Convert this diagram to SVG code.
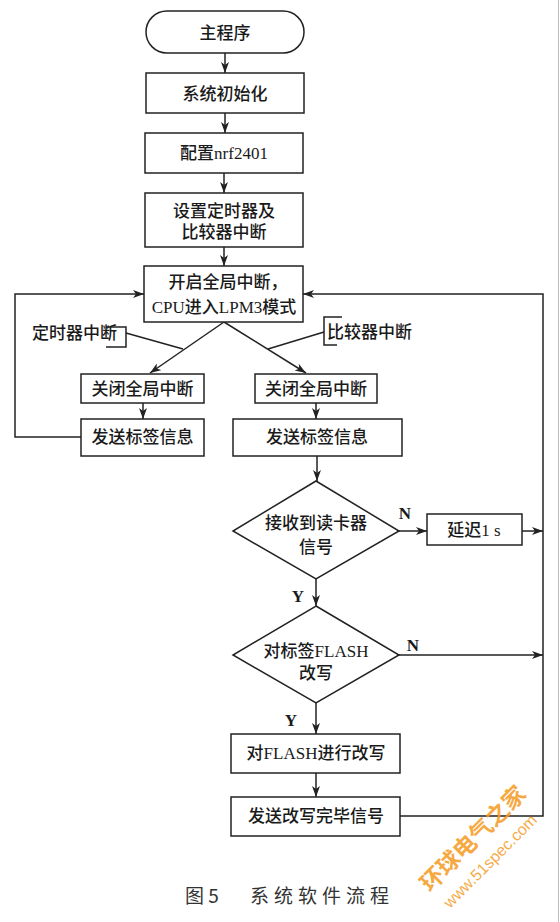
<svg xmlns="http://www.w3.org/2000/svg" width="560" height="922" viewBox="0 0 560 922">
<style>
.n{fill:#fff;stroke:#222;stroke-width:1.5}
.t{font-family:"Liberation Serif","Noto Sans CJK SC",serif;font-size:17px;font-weight:500;fill:#1a1a1a;text-anchor:middle;dominant-baseline:central}
.l{font-family:"Liberation Serif","Noto Sans CJK SC",serif;font-size:17px;font-weight:500;fill:#1a1a1a;dominant-baseline:central}
.yn{font-family:"Liberation Serif",serif;font-size:17px;font-weight:bold;fill:#1a1a1a;text-anchor:middle;dominant-baseline:central}
.c{fill:none;stroke:#222;stroke-width:1.5}
.cap{font-family:"Noto Sans CJK SC",serif;font-size:19px;fill:#333;dominant-baseline:central}
.wm{font-family:"Noto Sans CJK SC",sans-serif;font-weight:bold;fill:#f59a1e;fill-opacity:0.85}
</style>
<defs>
<marker id="a" markerUnits="userSpaceOnUse" markerWidth="12" markerHeight="10" refX="11" refY="4" orient="auto">
<path d="M0,0 L11,4 L0,8 L3,4 z" fill="#222"/>
</marker>
</defs>
<line x1="558.5" y1="0" x2="558.5" y2="922" stroke="#bbb" stroke-width="1"/>
<g id="connectors">
<line class="c" x1="225" y1="53" x2="225" y2="73" marker-end="url(#a)"/>
<line class="c" x1="225" y1="113" x2="225" y2="133" marker-end="url(#a)"/>
<line class="c" x1="224" y1="173" x2="224" y2="193" marker-end="url(#a)"/>
<line class="c" x1="224" y1="247" x2="224" y2="266" marker-end="url(#a)"/>
<line class="c" x1="224" y1="322" x2="150" y2="373" marker-end="url(#a)"/>
<line class="c" x1="224" y1="322" x2="306" y2="373" marker-end="url(#a)"/>
<path class="c" d="M106,327 H126 V347 H106"/>
<line class="c" x1="126" y1="333" x2="183" y2="349"/>
<path class="c" d="M342,317 H324 V345 H337"/>
<line class="c" x1="324" y1="332" x2="268" y2="349"/>
<line class="c" x1="143" y1="403" x2="143" y2="419" marker-end="url(#a)"/>
<line class="c" x1="316" y1="403" x2="316" y2="419" marker-end="url(#a)"/>
<path class="c" d="M81,437 H15 V294 H144" marker-end="url(#a)"/>
<line class="c" x1="317" y1="456" x2="317" y2="481" marker-end="url(#a)"/>
<line class="c" x1="399" y1="531" x2="427" y2="531" marker-end="url(#a)"/>
<line class="c" x1="522" y1="531" x2="543" y2="531" marker-end="url(#a)"/>
<line class="c" x1="316" y1="579" x2="316" y2="606" marker-end="url(#a)"/>
<line class="c" x1="399" y1="655" x2="543" y2="655" marker-end="url(#a)"/>
<line class="c" x1="316" y1="703" x2="316" y2="734" marker-end="url(#a)"/>
<line class="c" x1="316" y1="773" x2="316" y2="797" marker-end="url(#a)"/>
<path class="c" d="M400,816 H543 V294 H303" marker-end="url(#a)"/>
</g>
<g id="start"><rect class="n" x="146" y="11" width="158" height="42" rx="21"/><text class="t" x="225" y="33">主程序</text></g>
<g id="init"><rect class="n" x="146" y="73" width="158" height="40"/><text class="t" x="225" y="94">系统初始化</text></g>
<g id="nrf"><rect class="n" x="145" y="133" width="158" height="40"/><text class="t" x="224" y="153">配置nrf2401</text></g>
<g id="timer"><rect class="n" x="145" y="193" width="158" height="54"/><text class="t" x="224" y="211">设置定时器及</text><text class="t" x="224" y="232">比较器中断</text></g>
<g id="lpm"><rect class="n" x="144" y="266" width="159" height="56"/><text class="t" x="228" y="282">开启全局中断，</text><text class="t" x="224" y="307">CPU进入LPM3模式</text></g>
<g id="lbl-timer"><text class="l" x="117" y="333" text-anchor="end">定时器中断</text></g>
<g id="lbl-cmp"><text class="l" x="327" y="332">比较器中断</text></g>
<g id="close-l"><rect class="n" x="81" y="374" width="123" height="29"/><text class="t" x="142.5" y="389">关闭全局中断</text></g>
<g id="send-l"><rect class="n" x="81" y="419" width="123" height="37"/><text class="t" x="142.5" y="437">发送标签信息</text></g>
<g id="close-r"><rect class="n" x="255" y="374" width="122" height="29"/><text class="t" x="316" y="389">关闭全局中断</text></g>
<g id="send-r"><rect class="n" x="233" y="419" width="169" height="37"/><text class="t" x="317" y="437">发送标签信息</text></g>
<g id="recv"><polygon class="n" points="316,481 399,531 316,579 233,531"/><text class="t" x="316" y="523">接收到读卡器</text><text class="t" x="316" y="547">信号</text></g>
<g id="delay"><rect class="n" x="427" y="514" width="95" height="31"/><text class="t" x="474" y="530">延迟1 s</text></g>
<g id="flashq"><polygon class="n" points="316,606 399,655 316,703 233,655"/><text class="t" x="316" y="651">对标签FLASH</text><text class="t" x="316" y="673">改写</text></g>
<g id="write"><rect class="n" x="231" y="734" width="169" height="39"/><text class="t" x="316" y="753">对FLASH进行改写</text></g>
<g id="done"><rect class="n" x="231" y="797" width="169" height="39"/><text class="t" x="316" y="816">发送改写完毕信号</text></g>
<g id="labels">
<text class="yn" x="405" y="513">N</text>
<text class="yn" x="298" y="596">Y</text>
<text class="yn" x="413" y="645">N</text>
<text class="yn" x="291" y="720">Y</text>
</g>
<g id="caption"><text class="cap" x="185" y="894">图 5</text><text class="cap" x="250" y="894" letter-spacing="5">系统软件流程</text></g>
<g id="watermark">
<text class="wm" font-size="23" transform="translate(430,893) rotate(-45)">环球电气之家</text>
<text class="wm" font-size="16" style="font-family:'Liberation Sans',sans-serif;font-weight:normal" transform="translate(450,909) rotate(-45)">www.51spec.com</text>
</g>
</svg>
